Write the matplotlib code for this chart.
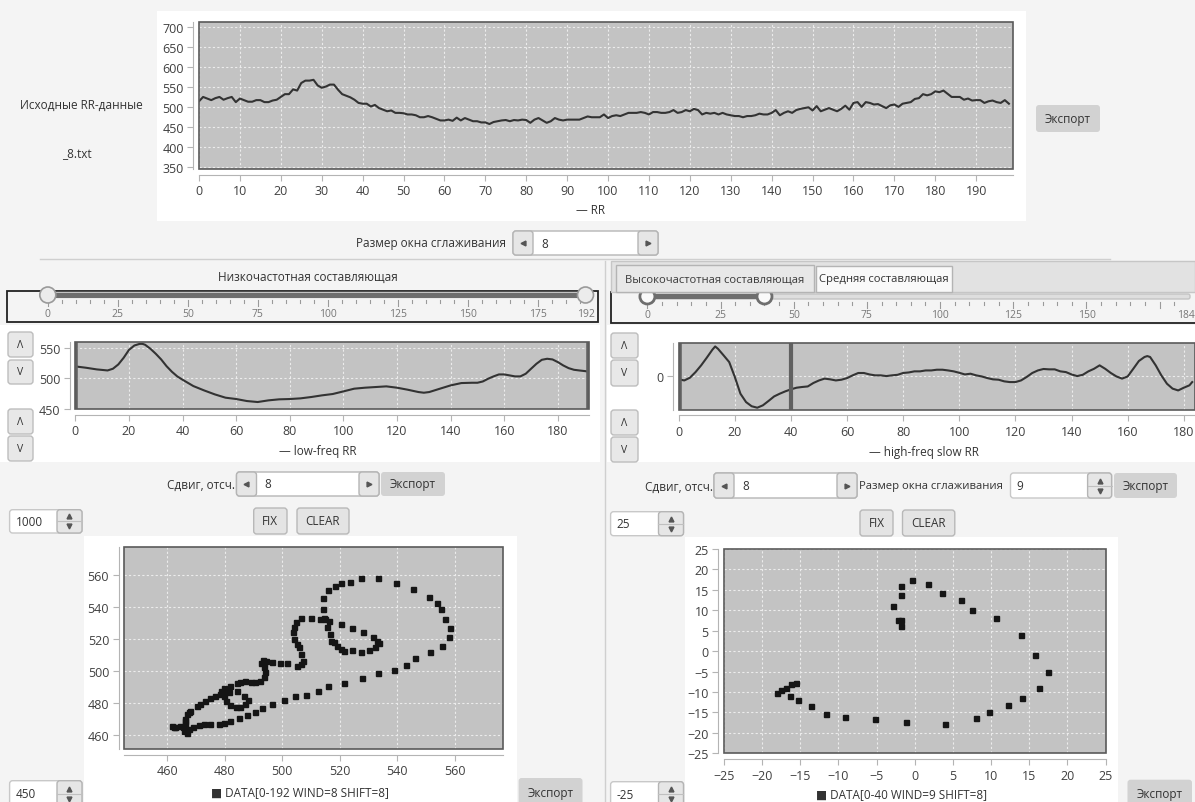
import matplotlib
matplotlib.use('Agg')
import matplotlib.pyplot as plt
from matplotlib.patches import Rectangle, FancyBboxPatch, Circle

plt.rcParams['font.family'] = ['Open Sans', 'DejaVu Sans']

W, H = 1195, 803

# --- source RR series (t = 0..198)
rr_values = [514, 525, 521, 517, 522, 525, 518, 522, 525, 512, 521, 517, 513, 513, 517, 517, 512, 512, 516, 518,
             525, 532, 532, 544, 541, 560, 566, 566, 568, 554, 548, 551, 556, 556, 543, 532, 528, 524, 518, 510,
             508, 508, 501, 505, 497, 493, 489, 491, 485, 485, 484, 481, 481, 479, 474, 474, 477, 474, 470, 466,
             466, 468, 465, 473, 466, 472, 468, 464, 464, 461, 461, 457, 462, 464, 466, 467, 464, 467, 466, 468,
             467, 460, 468, 472, 466, 460, 464, 472, 468, 466, 468, 468, 468, 468, 472, 476, 474, 474, 474, 481,
             472, 477, 479, 477, 481, 485, 485, 485, 487, 485, 481, 487, 487, 485, 485, 487, 492, 485, 487, 492,
             489, 495, 492, 481, 485, 483, 485, 481, 485, 481, 479, 477, 477, 474, 477, 477, 479, 483, 481, 481,
             485, 492, 479, 485, 489, 485, 492, 495, 497, 499, 491, 502, 489, 493, 497, 493, 489, 495, 503, 493,
             510, 512, 500, 512, 510, 506, 507, 502, 497, 504, 506, 500, 508, 510, 512, 520, 522, 532, 529, 532,
             539, 537, 541, 533, 525, 525, 525, 518, 521, 516, 517, 517, 510, 514, 516, 512, 510, 517, 508]
rr_t = list(range(len(rr_values)))
rr_xticks = list(range(0, 200, 10))
rr_yticks = list(range(350, 701, 50))

# --- low-frequency component
lf_t = [0, 4, 8, 12, 14, 16, 18, 20, 22, 24, 25, 26, 28, 30, 32, 34, 36, 38, 40, 44, 48, 52, 56, 60, 64, 68,
        72, 76, 80, 84, 88, 92, 96, 100, 104, 108, 112, 116, 120, 124, 128, 130, 132, 136, 140, 144, 148, 150,
        152, 154, 156, 158, 160, 162, 164, 166, 168, 170, 172, 174, 176, 178, 180, 182, 184, 186, 188, 190, 191]
lf_values = [519.6, 517.4, 514.7, 513, 515.8, 522.8, 533.7, 546.7, 553.8, 556.5, 556.5, 555, 548.4, 540.2, 531,
             520, 510.9, 503.3, 497.8, 487.5, 480.4, 473.9, 468.5, 466.3, 463, 461.4, 464.1, 465.8, 466.3, 467.4,
             469.6, 472.3, 474.5, 478.8, 483.2, 484.8, 485.9, 487, 484.8, 481.5, 477.7, 476.6, 477.7, 483.2,
             488.6, 492.4, 492.9, 492.9, 495, 499.5, 503.3, 506.5, 506.5, 504.9, 503.3, 503.3, 507.6, 515.8,
             523.9, 530.4, 532.1, 531, 526.6, 521.2, 516.8, 514.1, 513, 512, 511.4]
lf_xticks = list(range(0, 181, 20))
lf_yticks = [450, 500, 550]

# --- high-frequency (slow) component
hf_t = [0, 2, 4, 6, 8, 10, 12, 13, 14, 16, 18, 20, 22, 24, 26, 28, 30, 32, 34, 36, 38, 40, 42, 44, 46, 48, 50,
        52, 54, 56, 58, 60, 62, 64, 66, 68, 70, 72, 74, 76, 78, 80, 82, 84, 86, 88, 90, 92, 94, 96, 98, 100,
        102, 104, 106, 108, 110, 112, 114, 116, 118, 120, 122, 124, 126, 128, 130, 132, 134, 136, 138, 140,
        142, 144, 146, 148, 150, 152, 154, 156, 158, 160, 162, 164, 166, 167, 168, 170, 172, 174, 176, 178,
        180, 182, 183]
hf_values = [-2.0, -2.6, -1.1, 2.0, 5.7, 9.9, 14.3, 16.1, 14.8, 11.2, 7.5, -0.7, -9.9, -14.5, -16.8, -17.6,
             -16.3, -13.9, -11.4, -9.9, -8.6, -7.5, -6.6, -6.2, -5.9, -4.0, -2.6, -1.6, -2.0, -2.6, -2.2, -1.3,
             0.2, 1.5, 1.5, 0.7, 0.2, 0.2, -0.2, 0.2, 0.5, 1.5, 1.8, 2.4, 2.4, 2.9, 2.9, 3.3, 3.3, 2.9, 2.4, 1.6,
             0.7, 1.1, 0.2, -0.4, -1.3, -2.0, -2.2, -3.1, -3.5, -3.5, -2.6, -0.7, 1.5, 2.9, 3.7, 3.5, 3.5, 2.4,
             2.0, 0.7, -0.2, 0.5, 2.4, 3.8, 5.7, 3.8, 1.5, -0.4, -1.6, -0.4, 3.8, 8.1, 10.3, 10.8, 10.3, 5.7,
             0.2, -4.4, -7.1, -8.1, -6.6, -5.3, -3.5]
hf_xticks = list(range(0, 181, 20))

# --- phase portrait, low-frequency
sc1_x = [527.4, 533.3, 539.4, 545.5, 551.0, 553.6, 555.2, 556.5, 558.3, 558.0, 555.4, 551.3, 546.3, 543.0,
         539.0, 533.3, 527.6, 521.4, 515.9, 512.3, 508.4, 504.5, 500.6, 496.5, 493.0, 490.7, 487.8, 485.1,
         482.0, 479.7, 477.9, 474.8, 473.0, 471.0, 469.0,
         523.7, 520.3, 518.5, 515.9, 514.3, 514.3, 514.5, 516.2,
         520.3, 524.4, 528.0, 531.5, 533.1, 533.7, 532.2, 530.2, 527.4, 524.4, 521.5, 520.3, 519.2, 518.0,
         517.1, 516.7, 515.5, 514.8,
         513.1, 509.9, 506.7, 504.9, 504.0, 503.7, 504.0, 505.0, 505.8, 506.4, 507.3, 506.4, 505.0, 501.7,
         499.2, 496.5, 494.5, 493.3, 492.5, 493.7, 493.9, 493.6, 492.2, 490.7, 489.0, 487.2, 485.5, 484.3,
         482.0, 479.9, 478.9, 481.4, 484.3, 486.6, 488.0, 487.2, 485.5, 483.8, 482.0, 480.6, 479.7, 480.3,
         478.5, 476.8, 475.1, 473.3, 471.6, 470.4, 468.1, 467.0, 466.4, 466.4, 465.6, 464.4, 462.9, 461.7,
         462.3, 465.8, 467.0, 467.5, 466.4, 467.5]
sc1_y = [557.7, 557.7, 555.0, 551.1, 545.9, 542.3, 538.6, 532.6, 526.7, 520.9, 515.7, 511.6, 507.8, 503.7,
         500.5, 498.5, 495.3, 492.4, 490.4, 487.7, 485.2, 484.1, 482.0, 479.3, 476.8, 474.6, 472.5, 470.4,
         468.5, 467.3, 466.9, 466.9, 466.9, 466.0, 464.8,
         555.6, 555.0, 553.1, 550.6, 545.4, 538.6, 533.0, 531.3,
         529.2, 526.7, 524.2, 520.9, 518.8, 517.4, 515.1, 513.0, 512.0, 513.0, 512.2, 513.6, 515.7, 517.8,
         518.8, 523.0, 527.2, 532.3,
         532.3, 533.0, 533.0, 530.3, 527.6, 524.0, 519.9, 516.8, 514.7, 510.5, 506.4, 504.3, 503.2, 504.7,
         504.9, 505.3, 506.4, 506.8, 504.7, 502.2, 499.1, 496.0, 493.5, 492.8, 492.8, 493.5, 493.3, 492.2,
         490.8, 489.3, 487.7, 486.6, 487.7, 484.5, 481.8, 479.3, 477.3, 477.3, 478.7, 481.4, 484.5, 487.7,
         485.6, 484.5, 483.1, 481.0, 479.3, 477.9, 475.2, 473.1, 470.0, 466.9, 464.8, 465.8, 465.2, 465.8,
         464.8, 462.7, 461.0, 463.7, 469.0, 474.1]
sc1_ticks = list(range(460, 561, 20))

# --- phase portrait, high-frequency (0-40)
sc2_x = [-1.8, -1.8, -2.2, -2.9, -1.8, -1.8, -0.4, 1.8, 3.6, 6.0, 7.5, 10.7, 13.9, 15.7, 17.4, 16.3, 14.0,
         12.2, 9.7, 8.0, 3.9, -1.1, -5.2, -9.2, -11.6, -13.6, -15.3, -16.4, -18.0, -17.5, -16.9, -16.2, -15.6]
sc2_y = [6.1, 7.7, 7.7, 11.1, 13.8, 15.9, 17.5, 16.4, 14.2, 12.4, 10.0, 8.2, 4.0, -0.9, -5.0, -8.9, -11.4,
         -13.3, -15.0, -16.4, -17.8, -17.4, -16.6, -16.0, -15.3, -13.5, -12.0, -10.9, -10.2, -9.5, -9.1, -8.1,
         -7.9]
sc2_ticks = list(range(-25, 26, 5))

# ---------------------------------------------------------------------------
fig = plt.figure(figsize=(W / 100, H / 100), dpi=100)
fig.patch.set_facecolor('#f4f4f4')

ax0 = fig.add_axes([0, 0, 1, 1])
ax0.set_xlim(0, W)
ax0.set_ylim(H, 0)
ax0.axis('off')

TXT = '#333333'


def rect(x0, y0, x1, y1, fc, ec='none', lw=1.0, z=1):
    ax0.add_patch(Rectangle((x0, y0), x1 - x0, y1 - y0, fc=fc, ec=ec, lw=lw, zorder=z))


def rrect(x0, y0, x1, y1, fc, ec='none', lw=1.0, r=3, z=2):
    ax0.add_patch(FancyBboxPatch((x0, y0), x1 - x0, y1 - y0,
                                 boxstyle=f"round,pad=0,rounding_size={r}",
                                 fc=fc, ec=ec, lw=lw, zorder=z))


def label(x, y, s, ha='left', size=8.5, color=TXT, z=8):
    ax0.text(x, y, s, ha=ha, va='center', fontsize=size, color=color, zorder=z)


def button(x0, y0, x1, y1, s, fc='#e4e4e4', ec='#b8b8b8', size=8.5):
    rrect(x0, y0, x1, y1, fc, ec)
    label((x0 + x1) / 2, (y0 + y1) / 2, s, ha='center', size=size)


def hspinner(x0, y0, x1, y1, value, aw=20):
    rrect(x0, y0, x1, y1, 'white', '#b5b5b5')
    rrect(x0, y0, x0 + aw, y1, '#e6e6e6', '#b5b5b5', z=3)
    rrect(x1 - aw, y0, x1, y1, '#e6e6e6', '#b5b5b5', z=3)
    ym = (y0 + y1) / 2
    ax0.plot([x0 + aw / 2], [ym], marker='<', ms=3.5, color='#555', zorder=4)
    ax0.plot([x1 - aw / 2], [ym], marker='>', ms=3.5, color='#555', zorder=4)
    label(x0 + aw + 8, ym, value, size=8.5)


def vspinner(x0, y0, x1, y1, value, aw=25):
    rrect(x0, y0, x1, y1, 'white', '#c8c8c8')
    rrect(x1 - aw, y0, x1, y1, '#e6e6e6', '#b5b5b5', z=3)
    ym = (y0 + y1) / 2
    ax0.plot([x1 - aw, x1], [ym, ym], color='#c0c0c0', lw=0.8, zorder=4)
    ax0.plot([x1 - aw / 2], [ym - 5], marker='^', ms=3.5, color='#555', zorder=4)
    ax0.plot([x1 - aw / 2], [ym + 5], marker='v', ms=3.5, color='#555', zorder=4)
    label(x0 + 6, ym, value, size=8.5)


def slider(x0, y0, x1, y1, p0, scale, vmax, lo, hi, rail_end, ring=False):
    rect(x0, y0, x1, y1, '#f4f4f4', '#222222', lw=1.3, z=1)
    ty = y0 + 4.5

    def px(v):
        return p0 + v * scale

    rrect(p0, ty - 2.5, rail_end, ty + 2.5, '#dedede', '#c4c4c4', r=2, z=2)
    rect(px(lo), ty - 2.5, px(hi), ty + 2.5, '#6e6e6e', z=3)
    for v in range(0, vmax + 1, 5):
        big = v % 25 == 0
        ax0.plot([px(v), px(v)], [ty + 5, ty + (11 if big else 8)],
                 color='#9a9a9a', lw=0.8, zorder=3)
    for v in list(range(0, vmax - 10, 25)) + [vmax]:
        label(px(v), y1 - 8, str(v), ha='center', size=7.5, color='#777777')
    for v in (lo, hi):
        if ring:
            ax0.add_patch(Circle((px(v), ty), 7.5, fc='#fafafa', ec='#6e6e6e', lw=2.0, zorder=4))
        else:
            ax0.add_patch(Circle((px(v), ty), 8, fc='#ececec', ec='#9a9a9a', lw=1.2, zorder=4))


def chart_axes(x0, y0, x1, y1):
    ax = fig.add_axes([x0 / W, 1 - y1 / H, (x1 - x0) / W, (y1 - y0) / H])
    ax.set_facecolor('#c3c3c3')
    ax.grid(True, color='#ececec', ls=(0, (2, 2)), lw=0.8)
    ax.set_axisbelow(True)
    for s in ('top', 'right'):
        ax.spines[s].set_visible(False)
    for s in ('left', 'bottom'):
        ax.spines[s].set_position(('outward', 4))
        ax.spines[s].set_color('#b4b4b4')
    ax.add_patch(Rectangle((0, 0), 1, 1, transform=ax.transAxes, fill=False,
                           ec='#5a5a5a', lw=1.2, clip_on=False, zorder=5))
    ax.tick_params(direction='out', length=4, color='#b4b4b4', labelsize=9,
                   labelcolor='#404040', pad=3)
    return ax


# --- top panel: source data
rect(157, 12, 1026, 222, 'white', z=0.5)
label(20, 105, 'Исходные RR-данные')
label(62, 154, '_8.txt')
button(1036, 106, 1100, 133, 'Экспорт', fc='#d2d2d2', ec='none')
label(591, 211, '— RR', ha='center')

ax_rr = chart_axes(199, 22.7, 1013, 170)
ax_rr.plot(rr_t, rr_values, color='#333333', lw=1.5)
ax_rr.set_xlim(0, 199)
ax_rr.set_ylim(344, 714)
ax_rr.set_xticks(rr_xticks)
ax_rr.set_yticks(rr_yticks)

label(506, 244, 'Размер окна сглаживания', ha='right')
hspinner(513, 232, 658, 256, '8')
ax0.plot([40, 1110], [259.5, 259.5], color='#cfcfcf', lw=1, zorder=1)
ax0.plot([605, 605], [262, 803], color='#cfcfcf', lw=1, zorder=1)

# --- left column
label(308, 277, 'Низкочастотная составляющая', ha='center')
slider(7, 291.5, 598, 323, 47.8, (585.5 - 47.8) / 192, 192, 0, 192, 585.5)
rect(0, 326, 600, 463, 'white', z=0.5)
for (y0, y1, s) in [(333, 358, 'Λ'), (361, 385, 'V'), (410, 435, 'Λ'), (437, 462, 'V')]:
    button(8, y0, 33, y1, s, fc='#e8e8e8', ec='#bdbdbd', size=7.5)

ax_lf = chart_axes(75.4, 342.7, 588.7, 410)
ax_lf.plot(lf_t, lf_values, color='#333333', lw=1.5)
ax_lf.axvline(0, color='#606060', lw=4)
ax_lf.axvline(191.5, color='#606060', lw=4)
ax_lf.set_xlim(0, 191.5)
ax_lf.set_ylim(450, 560)
ax_lf.set_xticks(lf_xticks)
ax_lf.set_yticks(lf_yticks)
label(318, 452, '— low-freq RR', ha='center')

label(235, 485, 'Сдвиг, отсч.', ha='right')
hspinner(236.5, 473, 379, 497, '8')
button(381, 473, 445, 497, 'Экспорт', fc='#d2d2d2', ec='none')
vspinner(9.6, 510.7, 82, 534, '1000')
button(253.7, 509, 287, 535, 'FIX')
button(297, 509, 349, 535, 'CLEAR')

rect(84, 537, 517, 803, 'white', z=0.5)
ax_s1 = chart_axes(124.4, 547.7, 503.3, 750)
ax_s1.plot(sc1_x, sc1_y, ls='none', marker='s', ms=3.6, color='#151515')
ax_s1.set_xlim(445.2, 576.8)
ax_s1.set_ylim(451.3, 577.5)
ax_s1.set_xticks(sc1_ticks)
ax_s1.set_yticks(sc1_ticks)
label(300, 793, '■ DATA[0-192 WIND=8 SHIFT=8]', ha='center')
vspinner(9.6, 781.7, 82, 808, '450')
button(518.6, 779, 582.5, 808, 'Экспорт', fc='#d2d2d2', ec='none')

# --- right column
slider(611, 293, 1198, 324, 647.4, (1186 - 647.4) / 184, 184, 0, 40, 1190, ring=True)
rect(611, 262, 1195, 293, '#e2e2e2', '#c6c6c6', z=5)
rect(616, 266, 814, 293, '#e8e8e8', '#b4b4b4', z=6)
rect(816, 267, 952, 293, '#f9f9f9', '#b4b4b4', z=6)
label(715, 280, 'Высокочастотная составляющая', ha='center', size=8.1, color='#3a3a3a')
label(884, 280, 'Средняя составляющая', ha='center', size=8.1)

rect(607, 326, 1195, 463, 'white', z=0.5)
for (y0, y1, s) in [(334, 359, 'Λ'), (361, 387, 'V'), (411, 436, 'Λ'), (438, 463, 'V')]:
    button(611, y0, 638, y1, s, fc='#e8e8e8', ec='#bdbdbd', size=7.5)

ax_hf = chart_axes(678.7, 344, 1195, 410.7)
ax_hf.plot(hf_t, hf_values, color='#333333', lw=1.5)
ax_hf.axvline(0, color='#606060', lw=4)
ax_hf.axvline(40, color='#606060', lw=3)
ax_hf.set_xlim(0, 184)
ax_hf.set_ylim(-18.7, 18)
ax_hf.set_xticks(hf_xticks)
ax_hf.set_yticks([0])
label(924, 453, '— high-freq slow RR', ha='center')

label(713, 487, 'Сдвиг, отсч.', ha='right')
hspinner(714, 474, 857, 499, '8')
label(859, 487, 'Размер окна сглаживания', size=8.1)
vspinner(1010.5, 474, 1111.6, 499, '9', aw=24)
button(1114, 474, 1177, 499, 'Экспорт', fc='#d2d2d2', ec='none')
vspinner(610.6, 512.7, 683.5, 536.7, '25')
button(860, 511, 893, 537, 'FIX')
button(902.5, 511, 954.8, 537, 'CLEAR')

rect(685, 538, 1118, 803, 'white', z=0.5)
ax_s2 = chart_axes(724, 550, 1105.5, 754.3)
ax_s2.plot(sc2_x, sc2_y, ls='none', marker='s', ms=3.6, color='#151515')
ax_s2.set_xlim(-25, 25)
ax_s2.set_ylim(-25, 25)
ax_s2.set_xticks(sc2_ticks)
ax_s2.set_yticks(sc2_ticks)
label(902, 795, '■ DATA[0-40 WIND=9 SHIFT=8]', ha='center')
vspinner(610.6, 782.7, 683.5, 808, '-25')
button(1127.5, 780.7, 1192, 808, 'Экспорт', fc='#d2d2d2', ec='none')

fig.savefig('out.png', dpi=100)
